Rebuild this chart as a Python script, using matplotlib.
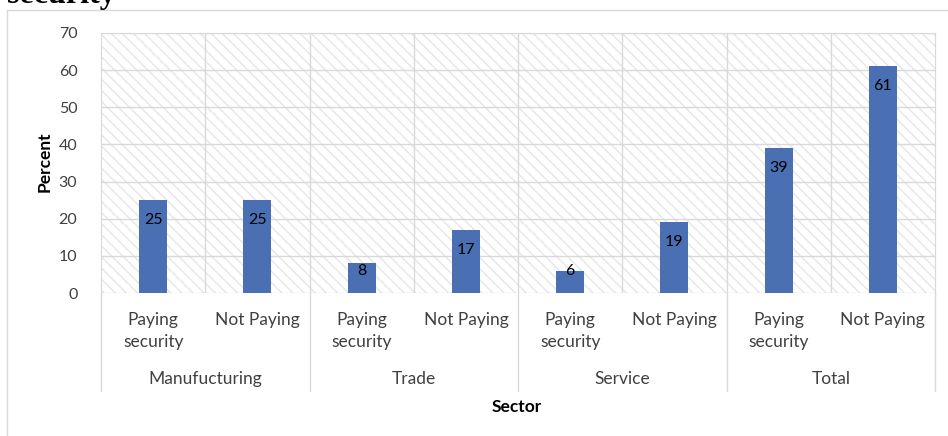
import matplotlib
matplotlib.use("Agg")
import matplotlib.pyplot as plt
from matplotlib.patches import Rectangle
from matplotlib.lines import Line2D

sectors = ["Manufucturing", "Trade", "Service", "Total"]
status = ["Paying\nsecurity", "Not Paying"]
percent = [25, 25, 8, 17, 6, 19, 39, 61]

bar_color = "#4a6fb2"
grid_color = "#d9d9d9"
text_color = "#404040"
plt.rcParams["font.family"] = ["Lato", "DejaVu Sans"]
plt.rcParams["hatch.linewidth"] = 1.0

W, H = 948, 436
fig = plt.figure(figsize=(W / 100, H / 100), dpi=100)

# chart area frame
fig.patches.append(Rectangle((7 / W, -0.1), 1.1, 1 - 10 / H + 0.1,
                             transform=fig.transFigure, fill=False,
                             ec="#d9d9d9", lw=1))

fig.text(7 / W, 1 - 3 / H, "security", family="Liberation Serif",
         weight="bold", fontsize=23, va="baseline", ha="left")

ax = fig.add_axes([101 / W, (H - 293) / H, (935 - 101) / W, (293 - 33) / H])
ax.patch.set_alpha(0)
ax.add_patch(Rectangle((0, 0), 1, 1, transform=ax.transAxes, fc="white",
                       ec="#e6e6e6", lw=0, hatch="\\\\\\", zorder=0))

ax.set_xlim(-0.5, len(percent) - 0.5)
ax.set_ylim(0, 70)

x = list(range(len(percent)))
bars = ax.bar(x, percent, width=0.27, color=bar_color, zorder=3)
px_per_unit = 260 / 70
for b, v in zip(bars, percent):
    # label sits inside the bar end, pulled up on short bars
    off = min(20, v * px_per_unit - 22)
    ax.annotate(str(v), (b.get_x() + b.get_width() / 2, v),
                xytext=(0, -off * 0.72), textcoords="offset points",
                ha="center", va="center", fontsize=11.5, color="black",
                zorder=4)

ax.set_yticks(range(0, 71, 10))
ax.set_xticks([i + 0.5 for i in range(len(percent) - 1)], minor=True)
ax.set_xticks([])
ax.grid(True, axis="y", color=grid_color, lw=1, zorder=1)
ax.grid(True, axis="x", which="minor", color=grid_color, lw=1, zorder=1)
ax.tick_params(axis="y", length=0, pad=17, labelsize=11.5, labelcolor=text_color)
ax.tick_params(axis="x", which="both", length=0)
for s in ax.spines.values():
    s.set_color(grid_color)
ax.spines["bottom"].set_visible(False)

# two-level category axis
for i in x:
    ax.text(i, -0.072, status[i % 2], transform=ax.get_xaxis_transform(),
            ha="center", va="top", fontsize=12.5, color=text_color,
            linespacing=1.5)
for g, name in enumerate(sectors):
    ax.text(2 * g + 0.5, -0.33, name, transform=ax.get_xaxis_transform(),
            ha="center", va="center", fontsize=12.5, color=text_color)
for g in range(len(sectors) + 1):
    ax.add_line(Line2D([2 * g - 0.5] * 2, [0, -0.375], color=grid_color, lw=1,
                       transform=ax.get_xaxis_transform(), clip_on=False))

fig.text(45 / W, 1 - 162 / H, "Percent", weight="bold", fontsize=12.5,
         rotation=90, ha="center", va="center")
fig.text(517 / W, 1 - 407 / H, "Sector", weight="bold", fontsize=12.5,
         ha="center", va="center")

fig.savefig("out.png", dpi=100)
